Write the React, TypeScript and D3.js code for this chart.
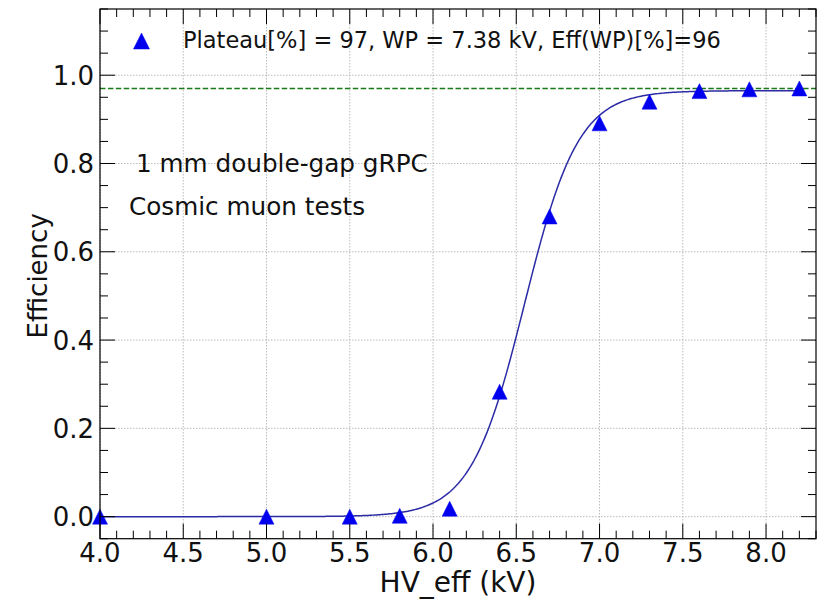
import React from "react";
import * as d3 from "d3";

// ---- data ----
const hvEff = [4.0, 5.0, 5.5, 5.8, 6.1, 6.4, 6.7, 7.0, 7.3, 7.6, 7.9, 8.2];
const efficiency = [0.0, 0.0, 0.0, 0.002, 0.018, 0.283, 0.68, 0.891, 0.94, 0.964, 0.968, 0.97];
// sigmoid fit parameters: eff = plateau / (1 + exp(-lambda*(HV - hv50)))
const fitPlateau = 0.965;
const fitLambda = 6.2;
const fitHv50 = 6.55;
const plateauLine = 0.97;
const xMajorTicks = [4.0, 4.5, 5.0, 5.5, 6.0, 6.5, 7.0, 7.5, 8.0];
const yMajorTicks = [0.0, 0.2, 0.4, 0.6, 0.8, 1.0];
const legendText = "Plateau[%] = 97, WP = 7.38 kV, Eff(WP)[%]=96";
const note1 = "1 mm double-gap gRPC";
const note2 = "Cosmic muon tests";
const xLabel = "HV_eff (kV)";
const yLabel = "Efficiency";

const W = 828, H = 600;
const L = 100, R = 816, T = 9, B = 538.7;
const FONT = "'DejaVu Sans', sans-serif";

export default function App() {
  const x = d3.scaleLinear().domain([4.0, 8.3]).range([L, R]);
  const y = d3.scaleLinear().domain([-0.05, 1.15]).range([B, T]);

  const xMinor = d3.range(40, 84).map((v) => v / 10).filter((v) => !xMajorTicks.some((m) => Math.abs(m - v) < 1e-6));
  const yMinor = d3.range(-1, 24).map((v) => v * 0.05).filter((v) => !yMajorTicks.some((m) => Math.abs(m - v) < 1e-6));

  const fit = (hv: number) => fitPlateau / (1 + Math.exp(-fitLambda * (hv - fitHv50)));
  const fitX = d3.range(0, 421).map((i) => 4.0 + i * 0.01);
  const line = d3.line<number>().x((d) => x(d)).y((d) => y(fit(d)));

  const tri = (cx: number, cy: number, s: number) =>
    `M${cx},${cy - s / 2}L${cx - s / 2},${cy + s / 2}L${cx + s / 2},${cy + s / 2}Z`;

  const MAJ = 15, MIN = 8;
  const tickStroke = "#000";

  return (
    <svg width={W} height={H} style={{ position: "absolute", left: 0, top: 0, background: "#fff" }} fontFamily={FONT}>
      <rect x={0} y={0} width={W} height={H} fill="#fff" />
      {/* grid */}
      <g stroke="#aaaaaa" strokeWidth={0.8} strokeDasharray="1.5,1.5">
        {xMajorTicks.map((t) => (
          <line key={"gx" + t} x1={x(t)} x2={x(t)} y1={T} y2={B} />
        ))}
        {yMajorTicks.map((t) => (
          <line key={"gy" + t} x1={L} x2={R} y1={y(t)} y2={y(t)} />
        ))}
      </g>
      {/* plateau line */}
      <line x1={L} x2={R} y1={y(plateauLine)} y2={y(plateauLine)} stroke="#1a7a1a" strokeWidth={1.5} strokeDasharray="5.5,2.4" />
      {/* fit curve */}
      <path d={line(fitX) || ""} fill="none" stroke="#2b2ba6" strokeWidth={1.5} />
      {/* points */}
      {hvEff.map((hv, i) => (
        <path key={"p" + i} d={tri(x(hv), y(efficiency[i]), 15)} fill="#0000ee" stroke="#0000ee" strokeWidth={0.5} />
      ))}
      {/* ticks */}
      <g stroke={tickStroke} strokeWidth={1}>
        {xMajorTicks.map((t) => (
          <g key={"tx" + t}>
            <line x1={x(t)} x2={x(t)} y1={B} y2={B - MAJ} />
            <line x1={x(t)} x2={x(t)} y1={T} y2={T + MAJ} />
          </g>
        ))}
        {xMinor.map((t) => (
          <g key={"mx" + t}>
            <line x1={x(t)} x2={x(t)} y1={B} y2={B - MIN} />
            <line x1={x(t)} x2={x(t)} y1={T} y2={T + MIN} />
          </g>
        ))}
        {yMajorTicks.map((t) => (
          <g key={"ty" + t}>
            <line x1={L} x2={L + MAJ} y1={y(t)} y2={y(t)} />
            <line x1={R} x2={R - MAJ} y1={y(t)} y2={y(t)} />
          </g>
        ))}
        {yMinor.map((t) => (
          <g key={"my" + t}>
            <line x1={L} x2={L + MIN} y1={y(t)} y2={y(t)} />
            <line x1={R} x2={R - MIN} y1={y(t)} y2={y(t)} />
          </g>
        ))}
      </g>
      {/* spines */}
      <rect x={L} y={T} width={R - L} height={B - T} fill="none" stroke="#000" strokeWidth={1.2} />
      {/* tick labels */}
      <g fontSize={26} fill="#111">
        {xMajorTicks.map((t) => (
          <text key={"lx" + t} x={x(t)} y={562} textAnchor="middle">
            {t.toFixed(1)}
          </text>
        ))}
        {yMajorTicks.map((t) => (
          <text key={"ly" + t} x={94} y={y(t) + 9.5} textAnchor="end">
            {t.toFixed(1)}
          </text>
        ))}
      </g>
      {/* axis labels */}
      <text x={(L + R) / 2} y={592} textAnchor="middle" fontSize={28} fill="#111">
        {xLabel}
      </text>
      <text transform={`translate(46.5,${(T + B) / 2 + 2}) rotate(-90)`} textAnchor="middle" fontSize={26} fill="#111">
        {yLabel}
      </text>
      {/* legend */}
      <path d={tri(141.5, 41, 16)} fill="#0000ee" stroke="#0000ee" strokeWidth={0.5} />
      <text x={183} y={47.5} fontSize={22.5} fill="#111">
        {legendText}
      </text>
      {/* annotations */}
      <text x={136} y={172} fontSize={24.7} fill="#111">
        {note1}
      </text>
      <text x={129} y={215} fontSize={24.7} fill="#111">
        {note2}
      </text>
    </svg>
  );
}
